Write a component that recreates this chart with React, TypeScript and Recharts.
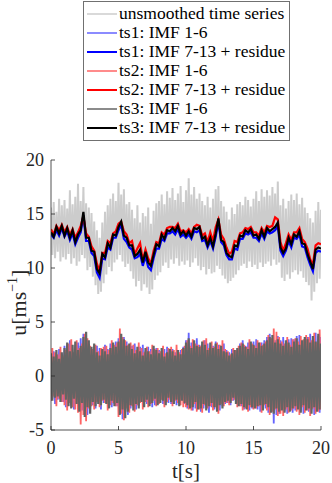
import { LineChart, Line, XAxis, YAxis } from 'recharts'

const FONT = "'Liberation Serif', 'DejaVu Serif', serif"
const AXIS = '#262626'

const xTicks = [0, 5, 10, 15, 20]
const yTicks = [-5, 0, 5, 10, 15, 20]

// raw signal, sampled every 0.1 s
const unsmoothed = [
  15.6, 11.2, 16.1, 10.9, 15.2, 11.5, 16.4, 10.6, 15.8, 11.0,
  16.3, 10.8, 15.5, 11.3, 17.2, 10.4, 15.9, 10.9, 16.6, 10.2,
  17.8, 10.6, 16.2, 11.2, 17.5, 10.9, 16.0, 9.8, 15.6, 10.1,
  15.1, 9.2, 14.3, 8.4, 13.5, 7.6, 12.8, 7.8, 14.2, 8.6,
  15.2, 9.4, 15.8, 10.1, 16.4, 9.7, 16.9, 10.5, 16.2, 10.8,
  17.9, 11.2, 16.8, 10.6, 17.3, 10.1, 15.9, 10.4, 16.1, 9.7,
  15.4, 9.0, 14.6, 8.3, 15.8, 8.8, 14.2, 7.9, 15.1, 8.5,
  14.8, 8.2, 15.6, 7.6, 14.1, 8.0, 15.3, 8.9, 16.0, 9.3,
  16.2, 9.6, 16.8, 10.2, 15.9, 10.5, 17.1, 10.0, 16.5, 10.8,
  17.4, 10.4, 16.3, 10.9, 16.9, 10.2, 17.6, 10.6, 16.1, 10.3,
  17.2, 10.7, 18.3, 10.1, 16.8, 10.5, 17.5, 10.9, 16.4, 10.2,
  16.9, 9.8, 16.2, 10.1, 15.8, 9.4, 16.6, 9.9, 15.6, 9.5,
  16.4, 9.6, 17.3, 10.2, 17.6, 9.9, 16.2, 9.3, 15.7, 9.0,
  15.2, 8.6, 14.5, 8.8, 15.6, 9.1, 15.0, 9.4, 15.9, 9.8,
  16.1, 10.2, 15.8, 10.4, 16.6, 10.0, 16.3, 10.6, 15.7, 10.1,
  16.4, 10.3, 17.1, 9.9, 16.2, 10.5, 17.3, 10.1, 16.6, 10.4,
  17.2, 10.6, 16.7, 10.2, 17.5, 10.8, 16.9, 10.3, 18.0, 10.5,
  15.8, 9.1, 16.4, 8.8, 15.5, 9.4, 16.2, 9.0, 16.8, 9.6,
  16.3, 9.8, 16.9, 9.4, 15.9, 9.7, 16.5, 9.1, 15.6, 8.7,
  15.1, 8.4, 14.6, 7.0, 14.2, 7.8, 15.3, 8.6, 16.1, 9.0,
  15.4,
]

// IMF 1-6 (fast part), every 0.1 s
const ts1Fast = [
  1.9, -2.1, 2.3, -2.6, 1.7, -2.2, 2.5, -1.8, 2.0, -2.4,
  2.8, -2.9, 2.5, -2.4, 3.3, -2.7, 2.2, -3.1, 2.9, -2.5,
  3.1, -2.8, 3.5, -3.2, 3.9, -3.0, 3.4, -3.6, 2.9, -3.2,
  2.5, -2.7, 2.2, -3.0, 2.8, -2.4, 2.6, -3.1, 2.3, -2.5,
  2.9, -2.4, 2.5, -2.7, 3.0, -2.9, 2.4, -2.6, 3.2, -2.8,
  3.5, -3.2, 3.1, -4.0, 3.6, -3.4, 3.2, -3.6, 2.7, -3.0,
  2.8, -2.5, 3.0, -3.1, 2.4, -2.8, 2.7, -2.3, 2.9, -2.6,
  2.3, -2.6, 2.7, -2.4, 2.5, -2.9, 2.2, -2.7, 2.6, -2.3,
  2.4, -2.2, 2.0, -2.6, 2.5, -2.3, 2.7, -2.5, 2.1, -2.6,
  2.5, -2.4, 2.2, -2.7, 2.0, -2.5, 2.4, -2.1, 2.7, -2.6,
  3.3, -3.0, 4.0, -2.8, 3.1, -3.2, 2.9, -3.0, 3.5, -2.7,
  2.9, -3.3, 2.7, -3.0, 3.3, -2.8, 3.0, -3.4, 2.6, -2.9,
  2.8, -3.1, 3.2, -2.7, 2.9, -3.2, 2.5, -2.8, 3.0, -2.6,
  2.4, -2.5, 2.2, -2.7, 2.5, -2.3, 2.0, -2.4, 2.3, -2.6,
  3.0, -2.8, 3.3, -3.1, 2.8, -2.9, 3.1, -3.2, 2.9, -3.0,
  3.2, -2.9, 3.4, -3.1, 2.9, -3.3, 3.1, -2.8, 3.3, -3.0,
  3.6, -3.4, 3.9, -3.2, 3.5, -4.4, 3.3, -3.6, 3.7, -3.5,
  3.3, -3.1, 3.6, -3.3, 3.0, -3.5, 3.4, -3.2, 3.5, -3.4,
  3.4, -3.2, 3.7, -3.0, 3.8, -3.3, 3.1, -3.5, 3.4, -2.9,
  3.6, -3.3, 3.9, -3.1, 3.5, -3.6, 4.0, -3.2, 3.7, -3.4,
  3.6,
]

const ts2Fast = [
  -2.3, 2.6, -1.9, 2.2, -2.8, 2.0, -2.1, 2.7, -2.4, 1.9,
  -2.7, 2.4, -3.2, 3.0, -2.5, 3.4, -2.9, 2.2, -3.1, 3.3,
  -3.4, 2.6, -4.5, 3.0, -3.6, 3.9, -4.2, 3.5, -3.0, 2.8,
  -2.8, 2.5, -3.1, 2.9, -2.4, 2.3, -2.9, 2.6, -2.3, 2.7,
  -2.5, 2.8, -3.2, 2.4, -2.7, 3.3, -2.5, 2.9, -2.8, 3.1,
  -3.8, 4.4, -3.5, 3.6, -4.1, 3.3, -3.0, 2.9, -3.4, 3.1,
  -2.8, 2.9, -3.3, 2.4, -2.7, 3.1, -2.5, 2.6, -3.1, 2.2,
  -2.4, 2.7, -2.9, 2.3, -2.6, 2.9, -2.3, 2.5, -2.8, 2.6,
  -2.6, 2.3, -2.2, 2.8, -2.9, 2.1, -2.4, 2.6, -2.2, 2.7,
  -2.8, 2.4, -2.3, 2.9, -2.5, 2.2, -2.7, 2.5, -2.9, 2.8,
  -2.9, 3.3, -3.1, 2.8, -3.2, 3.4, -2.6, 3.0, -3.3, 2.9,
  -3.1, 2.8, -3.4, 3.3, -2.7, 3.5, -3.0, 2.6, -2.8, 3.2,
  -3.2, 2.7, -2.9, 3.1, -3.5, 2.9, -2.6, 3.3, -2.8, 2.5,
  -2.5, 2.3, -2.7, 2.0, -2.3, 2.6, -2.2, 2.4, -2.9, 2.8,
  -2.8, 3.1, -3.2, 2.9, -3.0, 2.7, -3.3, 3.4, -2.9, 3.0,
  -3.1, 2.8, -3.0, 3.3, -2.8, 3.1, -3.4, 2.9, -2.7, 3.2,
  -3.2, 3.8, -3.6, 3.5, -3.3, 4.4, -3.1, 4.1, -3.7, 3.6,
  -3.5, 3.2, -3.7, 3.0, -3.1, 3.6, -3.4, 2.9, -3.2, 3.4,
  -3.0, 3.5, -3.3, 3.2, -3.6, 3.7, -2.9, 3.4, -3.4, 3.8,
  -3.2, 3.6, -3.7, 3.3, -3.0, 4.0, -3.5, 3.1, -3.3, 4.3,
  -3.1,
]

const ts3Fast = [
  2.1, -2.3, 1.8, -2.0, 2.4, -1.9, 1.6, -2.4, 2.2, -1.7,
  2.6, -2.2, 3.1, -2.8, 2.3, -3.0, 2.9, -2.1, 3.2, -2.6,
  2.4, -3.3, 2.8, -2.5, 3.6, -3.8, 4.1, -2.9, 3.3, -3.5,
  2.7, -2.4, 3.0, -2.8, 2.2, -2.6, 1.9, -2.7, 2.5, -2.2,
  2.3, -2.6, 2.0, -3.0, 2.6, -2.3, 3.1, -2.8, 2.7, -2.5,
  3.2, -3.6, 3.9, -3.1, 3.4, -3.9, 2.8, -3.3, 3.0, -2.7,
  2.5, -3.2, 2.1, -2.6, 2.7, -3.0, 2.3, -2.4, 1.9, -2.9,
  2.6, -2.2, 2.3, -2.8, 2.0, -2.5, 2.8, -2.1, 2.4, -2.7,
  2.1, -2.5, 2.6, -2.3, 1.8, -2.7, 2.2, -2.0, 2.5, -2.4,
  2.3, -2.6, 1.9, -2.2, 2.4, -2.8, 2.0, -2.3, 2.6, -2.5,
  3.1, -2.7, 3.5, -3.0, 2.6, -2.9, 3.3, -2.4, 2.8, -3.1,
  2.7, -3.0, 3.2, -2.6, 2.9, -3.2, 2.4, -2.8, 3.1, -2.5,
  2.6, -2.9, 3.0, -3.3, 2.5, -2.7, 2.8, -3.0, 2.3, -2.4,
  2.2, -2.3, 1.9, -2.5, 2.1, -2.0, 2.4, -2.6, 2.6, -2.8,
  2.8, -2.6, 3.0, -2.9, 2.7, -3.1, 2.5, -2.7, 3.2, -2.9,
  2.9, -3.0, 2.6, -2.8, 3.1, -2.7, 2.8, -3.2, 3.0, -2.6,
  3.3, -2.9, 3.6, -3.4, 3.8, -3.5, 3.1, -3.0, 3.4, -3.3,
  3.0, -3.2, 2.8, -3.4, 3.3, -2.9, 3.1, -3.3, 2.7, -3.0,
  3.2, -2.8, 3.5, -3.1, 2.9, -3.4, 3.3, -2.7, 3.6, -3.2,
  3.4, -3.0, 3.1, -3.5, 3.7, -2.9, 3.2, -3.3, 3.9, -3.1,
  3.0,
]

// IMF 7-13 + residue (slow part), every 0.2 s
const ts1Slow = [
  13.1, 12.8, 13.5, 13.0, 13.7, 12.9, 13.4, 12.6, 13.2, 12.2,
  12.8, 13.3, 14.9, 12.5, 12.5, 11.4, 11.1, 9.6, 9.1, 10.9,
  10.8, 11.9, 11.7, 12.8, 12.8, 13.5, 14.0, 12.7, 12.4, 11.9,
  11.7, 10.9, 11.0, 11.3, 10.2, 11.1, 10.1, 9.8, 10.9, 11.8,
  11.8, 12.7, 12.5, 13.2, 13.2, 13.4, 13.1, 13.6, 12.9, 13.1,
  12.8, 13.1, 12.7, 13.4, 13.3, 13.5, 12.5, 12.6, 11.9, 12.5,
  11.8, 12.9, 14.3, 12.4, 12.1, 11.2, 10.8, 10.8, 11.8, 11.7,
  12.7, 12.7, 13.2, 13.1, 13.3, 12.8, 12.8, 12.5, 13.2, 12.7,
  13.4, 13.2, 13.3, 13.5, 13.9, 11.6, 11.1, 11.6, 12.5, 11.9,
  12.8, 12.7, 13.1, 12.0, 11.9, 11.0, 10.3, 9.7, 11.4, 11.6,
  11.5,
]

const ts2Slow = [
  13.6, 13.1, 13.9, 13.5, 14.0, 13.3, 13.8, 13.1, 13.6, 12.8,
  13.3, 13.9, 14.8, 13.2, 12.9, 12.0, 11.6, 10.4, 9.7, 11.4,
  11.4, 12.5, 12.3, 13.2, 13.4, 14.1, 14.3, 13.4, 13.1, 12.3,
  12.5, 11.3, 11.8, 12.3, 10.7, 11.7, 10.9, 10.4, 11.6, 12.4,
  12.3, 13.3, 13.1, 13.7, 13.8, 13.8, 13.7, 14.1, 13.4, 13.5,
  13.3, 13.6, 13.2, 13.8, 14.0, 13.9, 13.0, 13.2, 12.4, 13.3,
  12.5, 13.8, 14.5, 13.1, 12.7, 11.9, 11.3, 11.5, 12.5, 12.4,
  13.2, 13.3, 13.7, 13.6, 13.8, 13.3, 13.3, 13.0, 13.7, 13.3,
  13.9, 13.8, 13.9, 14.7, 14.5, 12.4, 11.6, 12.3, 13.1, 12.6,
  13.3, 13.3, 13.7, 12.7, 12.4, 11.8, 10.8, 10.3, 12.1, 12.3,
  12.2,
]

const ts3Slow = [
  13.3, 12.9, 13.8, 13.2, 13.9, 13.0, 13.7, 12.8, 13.5, 12.4,
  13.1, 13.5, 15.2, 12.8, 12.8, 11.6, 11.5, 9.9, 9.5, 11.3,
  11.0, 12.3, 11.9, 13.1, 13.0, 13.8, 14.3, 13.0, 12.8, 12.1,
  12.1, 11.1, 11.3, 11.7, 10.5, 11.5, 10.5, 10.2, 11.2, 12.2,
  12.0, 13.1, 12.7, 13.5, 13.4, 13.7, 13.4, 13.9, 13.1, 13.4,
  13.0, 13.4, 12.9, 13.7, 13.6, 13.8, 12.7, 12.9, 12.1, 12.8,
  12.0, 13.2, 14.6, 12.6, 12.4, 11.4, 11.1, 11.0, 12.1, 12.0,
  13.0, 12.9, 13.5, 13.3, 13.6, 13.0, 13.1, 12.7, 13.5, 12.9,
  13.7, 13.4, 13.6, 13.8, 14.2, 11.9, 11.4, 11.8, 12.8, 12.2,
  13.1, 12.9, 13.4, 12.3, 12.2, 11.3, 10.6, 9.9, 11.7, 11.9,
  11.8,
]

const rows = (vals: number[], step: number) => vals.map((u, i) => ({ t: Math.round(i * step * 10) / 10, u }))

const series = [
  { name: 'unsmoothed time series', data: rows(unsmoothed, 0.1), color: '#cccccc', width: 2, slow: false },
  { name: 'ts1: IMF 1-6', data: rows(ts1Fast, 0.1), color: '#6464ff', width: 1.8, slow: false },
  { name: 'ts1: IMF 7-13 + residue', data: rows(ts1Slow, 0.2), color: '#0000ff', width: 2.2, slow: true },
  { name: 'ts2: IMF 1-6', data: rows(ts2Fast, 0.1), color: '#ff6464', width: 1.8, slow: false },
  { name: 'ts2: IMF 7-13 + residue', data: rows(ts2Slow, 0.2), color: '#ff0000', width: 2.2, slow: true },
  { name: 'ts3: IMF 1-6', data: rows(ts3Fast, 0.1), color: '#646464', width: 2.2, slow: false },
  { name: 'ts3: IMF 7-13 + residue', data: rows(ts3Slow, 0.2), color: '#000000', width: 2.2, slow: true },
]

const BottomTick = ({ x, y, payload }: any) => (
  <g>
    <line x1={x} x2={x} y1={y} y2={y - 4} stroke={AXIS} strokeWidth={0.8} />
    <text x={x} y={y + 24} textAnchor="middle" fontFamily={FONT} fontSize={18} fill={AXIS}>{payload.value}</text>
  </g>
)
const TopTick = ({ x, y }: any) => <line x1={x} x2={x} y1={y} y2={y + 4} stroke={AXIS} strokeWidth={0.8} />
const LeftTick = ({ x, y, payload }: any) => (
  <g>
    <line x1={x} x2={x + 4} y1={y} y2={y} stroke={AXIS} strokeWidth={0.8} />
    <text x={x - 7} y={y + 6} textAnchor="end" fontFamily={FONT} fontSize={18} fill={AXIS}>{payload.value}</text>
  </g>
)
const RightTick = ({ x, y }: any) => <line x1={x} x2={x - 4} y1={y} y2={y} stroke={AXIS} strokeWidth={0.8} />

function LegendBox() {
  return (
    <div style={{ position: 'absolute', left: 83, top: 1, width: 205, height: 136, border: '1px solid #707070', background: '#fff', paddingTop: 2, boxSizing: 'content-box' }}>
      {series.map((s) => (
        <div key={s.name} style={{ display: 'flex', alignItems: 'center', height: 19 }}>
          <svg width={35} height={19} style={{ flex: 'none' }}>
            <line x1={3} x2={33} y1={10} y2={10} stroke={s.color} strokeWidth={s.slow ? 2 : 1.5} />
          </svg>
          <span style={{ fontFamily: FONT, fontSize: 17.5, color: '#000', whiteSpace: 'nowrap' }}>{s.name}</span>
        </div>
      ))}
    </div>
  )
}

export default function App() {
  return (
    <div style={{ position: 'absolute', left: 0, top: 0, width: 332, height: 483, background: '#fff', fontFamily: FONT }}>
      <LineChart width={332} height={483} margin={{ top: 160, right: 11, bottom: 23, left: 11 }}>
        <XAxis dataKey="t" type="number" domain={[0, 20]} ticks={xTicks} allowDataOverflow
          height={30} tickSize={0} tickMargin={0} tick={<BottomTick />} axisLine={{ stroke: AXIS, strokeWidth: 0.8 }} />
        <XAxis xAxisId="top" orientation="top" dataKey="t" type="number" domain={[0, 20]} ticks={xTicks} allowDataOverflow
          height={0} tickSize={0} tickMargin={0} tick={<TopTick />} axisLine={{ stroke: AXIS, strokeWidth: 0.8 }} />
        <YAxis type="number" domain={[-5, 20]} ticks={yTicks} allowDataOverflow
          width={40} tickSize={0} tickMargin={0} tick={<LeftTick />} axisLine={{ stroke: AXIS, strokeWidth: 0.8 }} />
        <YAxis yAxisId="right" orientation="right" type="number" domain={[-5, 20]} ticks={yTicks} allowDataOverflow
          width={0} tickSize={0} tickMargin={0} tick={<RightTick />} axisLine={{ stroke: AXIS, strokeWidth: 0.8 }} />
        {series.map((s) => (
          <Line key={s.name} data={s.data} dataKey="u" name={s.name} type="linear" stroke={s.color}
            strokeWidth={s.width} strokeLinejoin="miter" dot={false} activeDot={false} isAnimationActive={false} />
        ))}
      </LineChart>
      <LegendBox />
      <div style={{ position: 'absolute', left: -44, top: 288, width: 120, textAlign: 'center', transform: 'rotate(-90deg)', fontFamily: FONT, fontSize: 22, lineHeight: '24px', color: AXIS }}>
        u[ms<sup style={{ fontSize: 14 }}>−1</sup>]
      </div>
      <div style={{ position: 'absolute', left: 146, top: 459, width: 80, textAlign: 'center', fontFamily: FONT, fontSize: 21, lineHeight: '24px', color: AXIS }}>
        t[s]
      </div>
    </div>
  )
}
